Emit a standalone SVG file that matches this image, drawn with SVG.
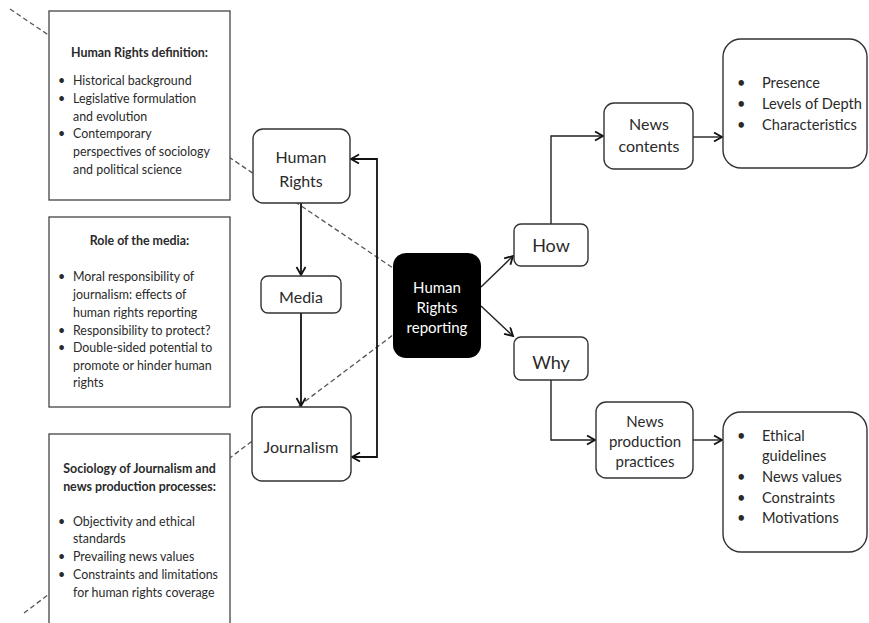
<svg xmlns="http://www.w3.org/2000/svg" width="869" height="623" viewBox="0 0 869 623">
<defs>
<style>
.bg{fill:#fff}
.dash{stroke:#555;stroke-width:1.3;stroke-dasharray:5 3;fill:none}
.box{fill:#fff;stroke:#444;stroke-width:1.3}
.node{fill:#fff;stroke:#333;stroke-width:1.4}
.t{font-family:Lato,"Liberation Sans",sans-serif;fill:#2a2a2a}
.s12{font-size:12.4px}
.b{font-weight:bold}
.s15{font-size:15px}
.s14{font-size:14.6px}
.s16{font-size:16px}
.s18{font-size:18px}
.mid{text-anchor:middle}
.conn{fill:none;stroke:#111;stroke-width:1.8}
.conn2{fill:none;stroke:#222;stroke-width:1.4}
</style>
<marker id="arr" markerWidth="12" markerHeight="12" refX="9" refY="5" orient="auto-start-reverse" markerUnits="userSpaceOnUse" viewBox="0 0 12 12">
<path d="M1,0.5 L9,5 L1,9.5" fill="none" stroke="#111" stroke-width="1.8"/>
</marker>
</defs>
<rect class="bg" x="0" y="0" width="869" height="623"/>
<g id="dashed-links">
<line class="dash" x1="10" y1="9" x2="393" y2="268"/>
<line class="dash" x1="24" y1="613" x2="393" y2="335"/>
</g>
<g id="hr-definition">
<rect class="box" x="49" y="11" width="181" height="189"/>
<text class="t s12 b mid" x="139.5" y="57">Human Rights definition:</text>
<text class="t s12" x="58" y="85">•</text><text class="t s12" x="73" y="85">Historical background</text>
<text class="t s12" x="58" y="103">•</text><text class="t s12" x="73" y="103">Legislative formulation</text>
<text class="t s12" x="73" y="121">and evolution</text>
<text class="t s12" x="58" y="138">•</text><text class="t s12" x="73" y="138">Contemporary</text>
<text class="t s12" x="73" y="156">perspectives of sociology</text>
<text class="t s12" x="73" y="174">and political science</text>
</g>
<g id="role-of-media">
<rect class="box" x="49" y="217" width="181" height="190"/>
<text class="t s12 b mid" x="139.5" y="245">Role of the media:</text>
<text class="t s12" x="58" y="281">•</text><text class="t s12" x="73" y="281">Moral responsibility of</text>
<text class="t s12" x="73" y="299">journalism: effects of</text>
<text class="t s12" x="73" y="317">human rights reporting</text>
<text class="t s12" x="58" y="335">•</text><text class="t s12" x="73" y="335">Responsibility to protect?</text>
<text class="t s12" x="58" y="352">•</text><text class="t s12" x="73" y="352">Double-sided potential to</text>
<text class="t s12" x="73" y="370">promote or hinder human</text>
<text class="t s12" x="73" y="387">rights</text>
</g>
<g id="sociology">
<rect class="box" x="49" y="434" width="181" height="200"/>
<text class="t s12 b mid" x="139.5" y="473">Sociology of Journalism and</text>
<text class="t s12 b mid" x="139.5" y="491">news production processes:</text>
<text class="t s12" x="58" y="526">•</text><text class="t s12" x="73" y="526">Objectivity and ethical</text>
<text class="t s12" x="73" y="543">standards</text>
<text class="t s12" x="58" y="561">•</text><text class="t s12" x="73" y="561">Prevailing news values</text>
<text class="t s12" x="58" y="579">•</text><text class="t s12" x="73" y="579">Constraints and limitations</text>
<text class="t s12" x="73" y="597">for human rights coverage</text>
</g>
<g id="connectors">
<path class="conn" d="M301,203 V275" marker-end="url(#arr)"/>
<path class="conn" d="M301,313 V406" marker-end="url(#arr)"/>
<path class="conn" d="M352,457 H377 V159 H351" marker-start="url(#arr)" marker-end="url(#arr)"/>
<path class="conn2" d="M481,287 L513,256" marker-end="url(#arr)"/>
<path class="conn2" d="M481,306 L513,336" marker-end="url(#arr)"/>
<path class="conn2" d="M551,224 V136 H603" marker-end="url(#arr)"/>
<path class="conn2" d="M693,137 H722" marker-end="url(#arr)"/>
<path class="conn2" d="M551,380 V440 H595" marker-end="url(#arr)"/>
<path class="conn2" d="M693,440 H722" marker-end="url(#arr)"/>
</g>
<g id="human-rights">
<rect class="node" x="253" y="129" width="97" height="74" rx="10"/>
<text class="t s16 mid" x="301" y="163">Human</text>
<text class="t s16 mid" x="301" y="187">Rights</text>
</g>
<g id="media">
<rect class="node" x="261" y="276" width="80" height="37" rx="7"/>
<text class="t s16 mid" x="301" y="303">Media</text>
</g>
<g id="journalism">
<rect class="node" x="252" y="407" width="99" height="74" rx="10"/>
<text class="t s16 mid" x="301" y="453">Journalism</text>
</g>
<g id="hr-reporting">
<rect x="393" y="253" width="88" height="105" rx="13" fill="#000"/>
<text class="t s15 mid" x="437" y="293" style="fill:#fff">Human</text>
<text class="t s15 mid" x="437" y="313" style="fill:#fff">Rights</text>
<text class="t s15 mid" x="437" y="333" style="fill:#fff">reporting</text>
</g>
<g id="how">
<rect class="node" x="514" y="224" width="74" height="42" rx="7"/>
<text class="t s18 mid" x="551" y="252">How</text>
</g>
<g id="why">
<rect class="node" x="514" y="337" width="74" height="43" rx="7"/>
<text class="t s18 mid" x="551" y="369">Why</text>
</g>
<g id="news-contents">
<rect class="node" x="604" y="103" width="89" height="66" rx="10"/>
<text class="t s16 mid" x="649" y="130">News</text>
<text class="t s16 mid" x="649" y="152">contents</text>
</g>
<g id="news-production">
<rect class="node" x="596" y="402" width="97" height="76" rx="10"/>
<text class="t s15 mid" x="645" y="427">News</text>
<text class="t s15 mid" x="645" y="447">production</text>
<text class="t s15 mid" x="645" y="467">practices</text>
</g>
<g id="content-aspects">
<rect class="node" x="723" y="39" width="144" height="129" rx="18"/>
<text class="t s14" x="737" y="88">•</text><text class="t s14" x="762" y="88">Presence</text>
<text class="t s14" x="737" y="109">•</text><text class="t s14" x="762" y="109">Levels of Depth</text>
<text class="t s14" x="737" y="130">•</text><text class="t s14" x="762" y="130">Characteristics</text>
</g>
<g id="production-aspects">
<rect class="node" x="723" y="412" width="144" height="140" rx="18"/>
<text class="t s14" x="737" y="441">•</text><text class="t s14" x="762" y="441">Ethical</text>
<text class="t s14" x="762" y="461">guidelines</text>
<text class="t s14" x="737" y="482">•</text><text class="t s14" x="762" y="482">News values</text>
<text class="t s14" x="737" y="503">•</text><text class="t s14" x="762" y="503">Constraints</text>
<text class="t s14" x="737" y="523">•</text><text class="t s14" x="762" y="523">Motivations</text>
</g>
</svg>
